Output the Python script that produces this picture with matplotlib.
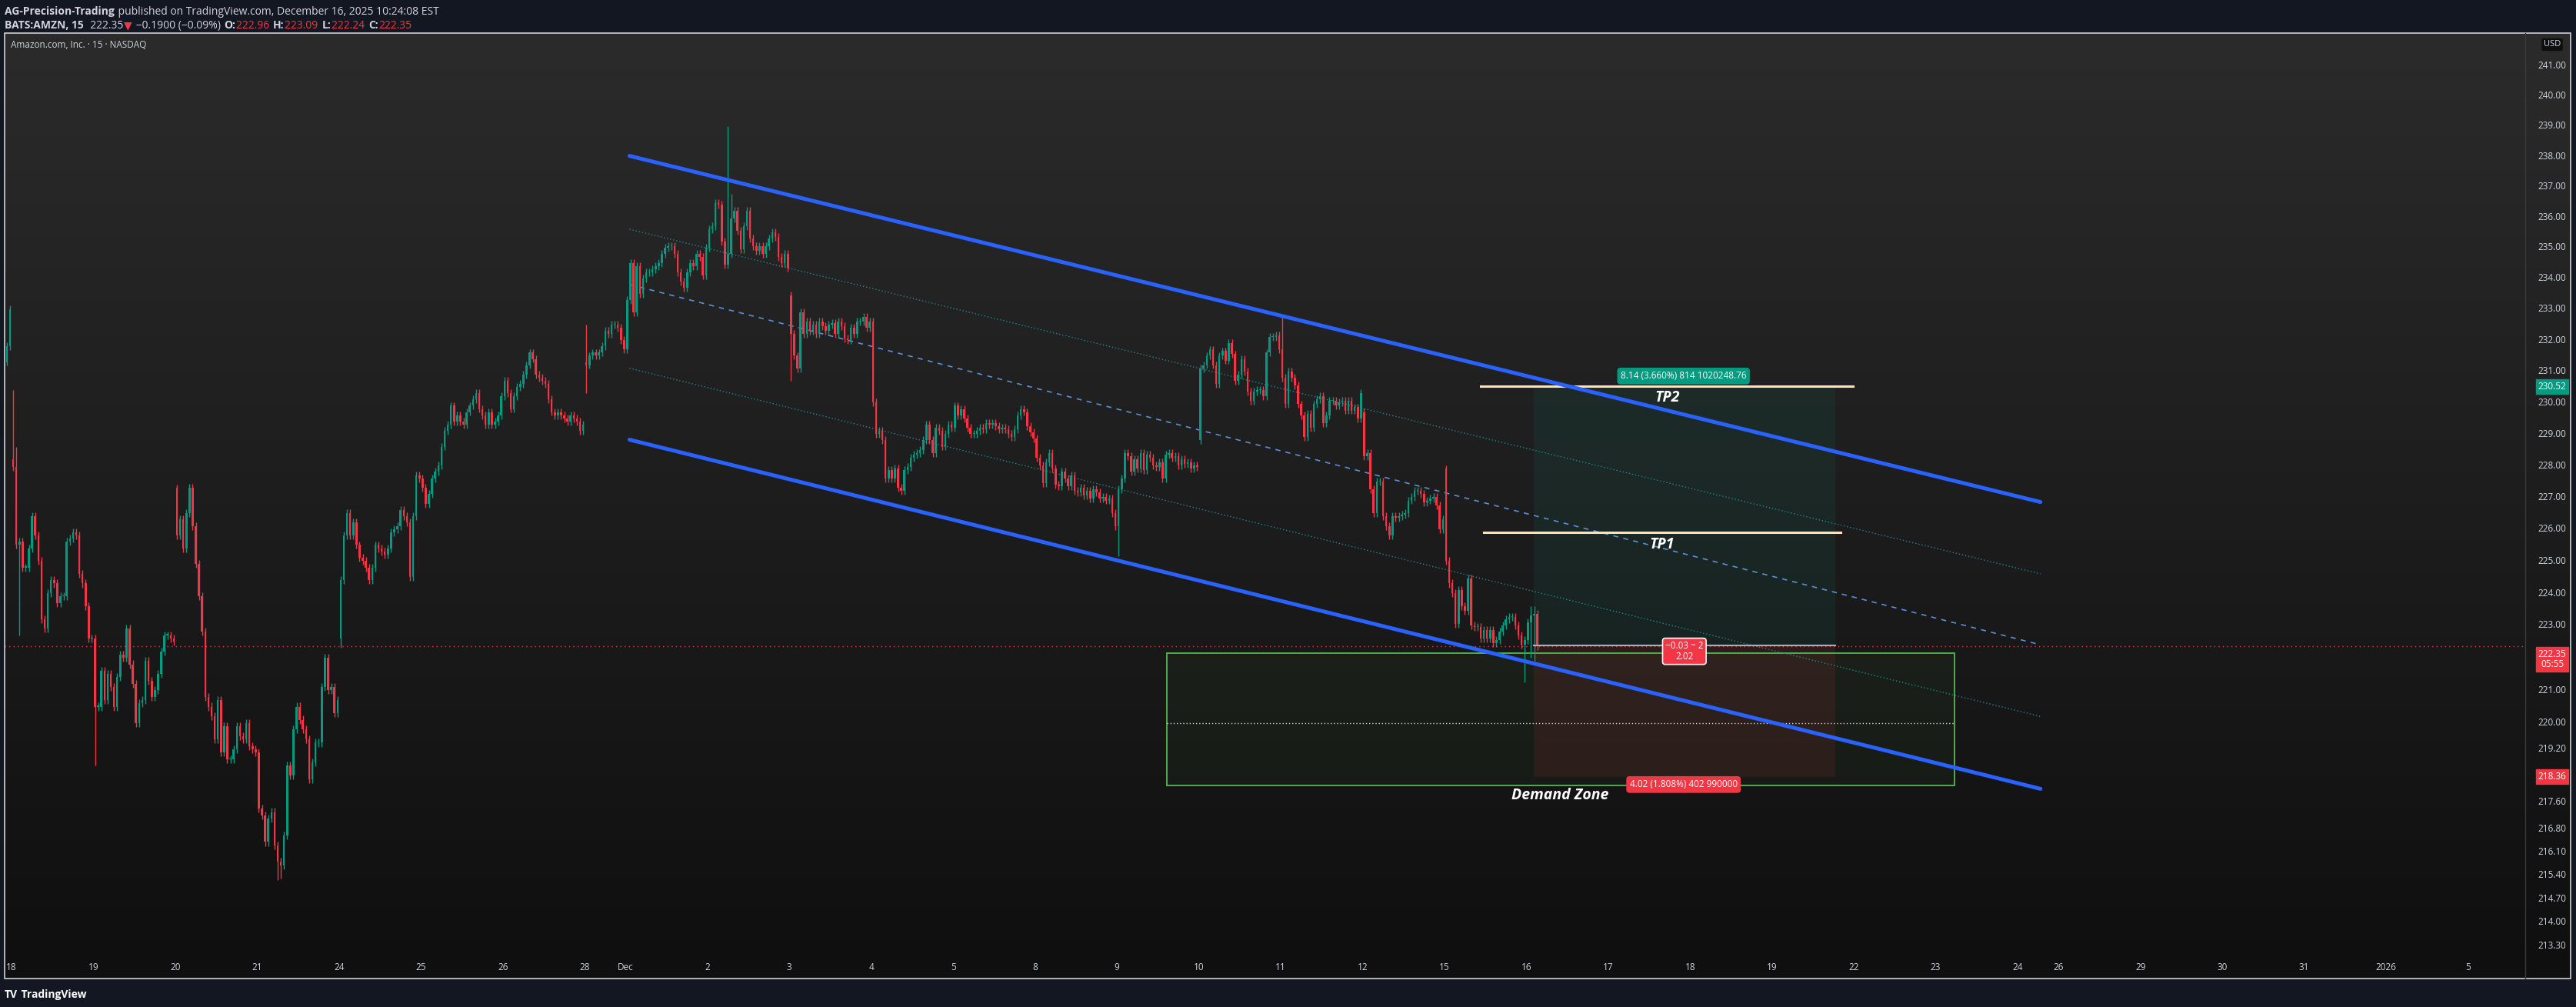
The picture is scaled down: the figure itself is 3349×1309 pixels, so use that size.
import matplotlib
matplotlib.use("Agg")
import matplotlib.pyplot as plt
import numpy as np
from matplotlib.patches import Rectangle
from matplotlib.colors import LinearSegmentedColormap

W, H = 3349, 1309
FONT = ["Open Sans", "DejaVu Sans"]

# ---------------- data ----------------
DAY_LABELS = ['18','19','20','21','24','25','26','28','Dec','2','3','4','5','8','9','10',
              '11','12','15','16','17','18','19','22','23','24','26','29','30','31','2026','5']
DAY_POS = [0,1,2,3,4,5,6,7,7.5,8.5,9.5,10.5,11.5,12.5,13.5,14.5,15.5,16.5,17.5,18.5,
           19.5,20.5,21.5,22.5,23.5,24.5,25,26,27,28,29,30]

NOV17 = [231.8, 233.0]
NOV18 = [227.95,225.5,225.6,224.8,224.8,225.4,226.4,225.8,225.0,223.2,222.9,224.0,224.4,224.3,
         223.7,223.9,223.9,225.6,225.7,225.9,225.8,224.6,224.3,223.6,222.6,222.6]
NOV19 = [220.5,220.5,221.6,220.7,221.5,221.1,220.5,221.4,222.1,222.0,222.9,221.8,221.2,220.0,
         220.6,220.7,221.9,221.3,220.8,221.0,221.5,222.2,222.7,222.7,222.6,222.5]
NOV20 = [225.8,226.3,225.4,226.5,227.3,226.1,224.9,223.9,222.8,220.8,220.5,220.2,219.5,220.7,
         219.1,219.9,218.9,218.9,219.2,219.9,219.6,219.5,220.0,219.3,219.2,219.1]
NOV21 = [217.4,217.2,216.4,217.1,217.3,216.3,215.8,215.7,216.6,218.7,218.4,219.8,220.5,220.1,
         219.8,219.5,218.3,218.8,219.4,219.4,221.1,222.0,221.0,221.1,220.3,220.7]
NOV24 = [224.4,225.8,226.5,225.8,226.2,225.5,225.1,225.0,224.8,224.4,224.8,225.5,225.4,225.3,
         225.2,225.4,225.9,226.0,226.1,226.6,226.4,226.2,224.5,226.4,227.7,227.6]
NOV25 = [227.3,226.8,227.1,227.6,227.8,228.0,228.6,229.1,229.3,229.9,229.4,229.6,229.4,229.3,
         229.7,229.9,230.1,230.3,229.8,229.6,229.3,229.7,229.3,229.4,229.6,230.2]
NOV26 = [230.7,230.3,229.8,230.2,230.5,230.6,230.9,231.2,231.6,231.4,230.9,230.8,230.7,230.6,
         230.1,229.7,229.6,229.7,229.6,229.5,229.4,229.6,229.5,229.4,229.1,229.3]
NOV28 = [231.2,231.5,231.6,231.5,231.6,231.8,232.3,232.2,232.5,232.5,232.4,232.0,231.7]
DEC01 = [233.3,234.5,232.9,234.4,233.5,234.0,234.2,234.2,234.3,234.4,234.5,234.8,235.0,235.05,
         235.05,234.8,234.2,233.9,233.7,234.2,234.5,234.4,234.8,234.7,234.1,235.0]
DEC02 = [235.6,235.7,236.45,236.4,235.2,234.45,234.8,235.95,236.2,235.55,234.95,235.7,236.2,
         235.3,235.05,234.9,235.05,234.8,235.05,235.3,235.5,235.35,234.7,234.5,234.8,234.35]
DEC03 = [232.2,231.5,231.1,232.9,232.2,232.6,232.3,232.5,232.2,232.6,232.45,232.3,232.5,232.55,
         232.2,232.6,232.45,232.05,232.0,232.4,232.2,232.6,232.6,232.75,232.4,232.6]
DEC04 = [230.0,229.0,229.1,228.8,227.6,227.85,227.6,227.9,227.3,227.2,227.85,227.95,228.25,
         228.35,228.4,228.5,228.8,229.3,228.8,228.4,229.2,229.1,228.6,229.0,229.3,229.2]
DEC05 = [229.9,229.6,229.8,229.5,229.2,229.0,229.0,229.1,229.2,229.15,229.35,229.3,229.35,
         229.25,229.15,229.2,229.15,229.0,228.9,229.15,229.6,229.8,229.7,229.25,229.05,228.85]
DEC08 = [228.25,228.0,227.45,228.1,228.4,227.9,227.4,227.35,227.8,227.6,227.35,227.7,227.2,
         227.15,227.3,227.05,227.2,226.95,227.25,227.15,226.95,227.0,226.9,226.95,226.5,226.1]
DEC09 = [227.25,227.6,228.4,228.3,227.8,228.2,227.9,228.4,227.85,228.35,228.25,228.0,227.95,
         228.1,227.6,228.35,228.4,228.25,228.3,228.0,228.2,228.05,228.1,227.9,228.0,227.95]
DEC10 = [231.1,231.2,231.5,231.7,231.2,230.6,231.5,231.65,231.35,231.9,231.55,230.7,230.9,
         231.4,231.0,230.35,230.05,230.35,230.4,230.4,230.2,231.6,232.1,232.1,232.15,231.7]
DEC11 = [230.8,229.95,231.0,230.8,230.55,229.95,229.6,228.9,229.65,229.2,229.95,230.1,230.2,
         229.35,229.6,230.05,230.05,229.9,230.0,230.05,229.75,230.05,229.75,229.85,229.5,230.3]
DEC12 = [228.3,228.4,227.25,226.5,227.5,227.5,226.4,226.1,225.8,226.4,226.35,226.4,226.45,
         226.5,226.9,227.0,227.2,227.2,227.1,226.85,226.9,226.95,227.0,226.75,226.0,226.3]
DEC15 = [225.0,224.3,224.0,223.05,224.1,223.6,223.45,224.45,223.0,222.95,222.95,222.6,222.85,
         222.6,222.85,222.45,222.55,222.8,223.0,223.2,223.25,223.25,223.0,222.7,222.4,222.55]
DEC16 = [223.1,223.3,223.35,222.35]

SESSIONS = [(-1, NOV17, 24), (0, NOV18, 0), (1, NOV19, 0), (2, NOV20, 0), (3, NOV21, 0),
            (4, NOV24, 0), (5, NOV25, 0), (6, NOV26, 0), (7, NOV28, 0), (7.5, DEC01, 0),
            (8.5, DEC02, 0), (9.5, DEC03, 0), (10.5, DEC04, 0), (11.5, DEC05, 0),
            (12.5, DEC08, 0), (13.5, DEC09, 0), (14.5, DEC10, 0), (15.5, DEC11, 0),
            (16.5, DEC12, 0), (17.5, DEC15, 0), (18.5, DEC16, 0)]
GAP_OPENS = {-1: 231.3, 0: 228.2, 2: 227.3, 4: 222.6, 7: 231.3, 7.5: 231.7, 9.5: 233.45,
             14.5: 228.8, 16.5: 229.7, 17.5: 227.9}
WICKS = {(0, 0): (230.4, None), (0, 1): (228.6, None), (0, 2): (None, 222.7),
         (1, 0): (None, 218.7), (2, 0): (227.4, None), (3, 6): (None, 215.25),
         (3, 7): (None, 215.3), (4, 0): (None, 222.3), (7, 0): (232.5, 230.3),
         (8.5, 6): (239.0, None), (8.5, 7): (236.75, None), (9.5, 0): (None, 230.7),
         (13.5, 0): (None, 225.15), (15.5, 0): (232.8, None), (17.5, 0): (228.0, None),
         (17.5, 25): (None, 221.25), (18.5, 1): (223.6, 222.0), (18.5, 2): (223.6, 221.9)}
DEFAULT_WICK = 0.12

LAST_PRICE = 222.35
TP2, TP1, ENTRY, STOP = 230.52, 225.9, 222.38, 218.36
ZONE_TOP, ZONE_MID, ZONE_BOT = 222.15, 220.0, 218.1
CH_X = (7.547, 24.78)
CH_UP = (238.01, 226.85)
CH_UQ = (235.6, 224.6)
CH_MID = (233.8, 222.4)
CH_LQ = (231.1, 220.2)
CH_LO = (228.82, 218.0)

PRICE_TICKS = [241,240,239,238,237,236,235,234,233,232,231,230,229,228,227,226,225,224,223,
               221,220,219.2,217.6,216.8,216.1,215.4,214.7,214.0,213.3]

GREEN, RED = "#089981", "#F23645"

# ---------------- figure ----------------
fig = plt.figure(figsize=(W/100, H/100), dpi=100)
fig.patch.set_facecolor("#131722")

def fx(px): return px / W
def fy(py): return 1 - py / H

PL, PT, PR, PB = 6, 43, 3342, 1272
bg = fig.add_axes([fx(PL), fy(PB), fx(PR-PL), (PB-PT)/H])
grad = np.linspace(0, 1, 256).reshape(-1, 1)
cmap = LinearSegmentedColormap.from_list("g", ["#2b2b2b", "#0f0f0f"])
bg.imshow(grad, aspect="auto", cmap=cmap, extent=[0, 1, 0, 1], origin="upper")
bg.set_axis_off()
fig.add_artist(Rectangle((fx(PL), fy(PB)), fx(PR-PL), (PB-PT)/H, transform=fig.transFigure,
                         fill=False, ec="#d0d0d0", lw=1.2))
fig.add_artist(plt.Line2D([fx(3283), fx(3283)], [fy(PB), fy(PT)], transform=fig.transFigure,
                          color="#3a3a3a", lw=1))

YT, YB = 43, 1245
ax = fig.add_axes([fx(PL), fy(YB), fx(3283-PL), (YB-YT)/H])
ax.set_facecolor("none")
ax.set_yscale("log")
ax.set_ylim(212.95, 242.1)
ax.set_xlim(-0.085, 30.7)
for s in ax.spines.values():
    s.set_visible(False)
ax.set_xticks([]); ax.set_yticks([])
ax.yaxis.set_minor_locator(matplotlib.ticker.NullLocator())

xs, o_, h_, l_, c_ = [], [], [], [], []
prev = None
for pos, closes, start in SESSIONS:
    for i, c in enumerate(closes):
        idx = start + i
        o = GAP_OPENS[pos] if (i == 0 and pos in GAP_OPENS) else (prev if prev is not None else c)
        hi = max(o, c) + DEFAULT_WICK
        lo = min(o, c) - DEFAULT_WICK
        if (pos, i) in WICKS:
            wh, wl = WICKS[(pos, i)]
            if wh is not None: hi = wh
            if wl is not None: lo = wl
        xs.append(pos + (idx + 0.5) / 26.0)
        o_.append(o); h_.append(hi); l_.append(lo); c_.append(c)
        prev = c
xs = np.array(xs); o_ = np.array(o_); c_ = np.array(c_); h_ = np.array(h_); l_ = np.array(l_)
cols = np.where(c_ >= o_, GREEN, RED)
ax.vlines(xs, l_, h_, colors=cols, lw=1.0, zorder=3)
bot = np.minimum(o_, c_); top = np.maximum(o_, c_)
top = np.where(top - bot < 0.03, bot + 0.03, top)
ax.bar(xs, top - bot, bottom=bot, width=0.62/26, color=cols, lw=0, zorder=4)

ax.axhline(LAST_PRICE, color=RED, lw=1, ls=(0, (1, 3)), zorder=2)

ax.add_patch(Rectangle((14.11, ZONE_BOT), 23.73-14.11, ZONE_TOP-ZONE_BOT, fill=True,
                       fc=(0.3, 0.69, 0.31, 0.05), ec="#4caf50", lw=1.4, zorder=2))
ax.plot([14.11, 23.73], [ZONE_MID, ZONE_MID], color="#cfcfcf", lw=1, ls=(0, (1, 2)), zorder=2)

PX0, PX1 = 18.59, 22.27
ax.add_patch(Rectangle((PX0, ENTRY), PX1-PX0, TP2-ENTRY, fc=(0.03, 0.6, 0.5, 0.09), lw=0, zorder=1))
ax.add_patch(Rectangle((PX0, STOP), PX1-PX0, ENTRY-STOP, fc=(0.95, 0.21, 0.27, 0.10), lw=0, zorder=1))
ax.plot([PX0, PX1], [ENTRY, ENTRY], color="#9fb5b5", lw=1.5, zorder=5)

ax.plot([17.94, 22.49], [TP2, TP2], color="#ffe0b2", lw=2.2, zorder=6)
ax.plot([17.98, 22.34], [TP1, TP1], color="#ffe0b2", lw=2.2, zorder=6)

ax.plot(CH_X, CH_UP, color="#2962ff", lw=3.6, zorder=7, solid_capstyle="round")
ax.plot(CH_X, CH_LO, color="#2962ff", lw=3.6, zorder=7, solid_capstyle="round")
ax.plot(CH_X, CH_MID, color="#5b8fd6", lw=1.2, ls=(0, (4, 4)), zorder=2)
ax.plot(CH_X, CH_UQ, color="#1f8a8a", lw=1.0, ls=(0, (1, 2)), zorder=2)
ax.plot(CH_X, CH_LQ, color="#1f8a8a", lw=1.0, ls=(0, (1, 2)), zorder=2)

tfont = dict(family=FONT, color="white", fontweight="bold", style="italic", fontsize=14,
             ha="center", va="center", zorder=10)
ax.text(20.22, 230.15, "TP2", **tfont)
ax.text(20.16, 225.5, "TP1", **tfont)
ax.text(18.91, 217.8, "Demand Zone", **tfont)

def badge(x, y, s, fc, ec=None, fs=8.5):
    ax.text(x, y, s, family=FONT, color="white", fontsize=fs, ha="center", va="center",
            zorder=11, linespacing=1.1,
            bbox=dict(boxstyle="round,pad=0.3,rounding_size=0.3", fc=fc,
                      ec=ec if ec else fc, lw=1.2))
badge(20.42, 230.85, "8.14 (3.660%) 814 1020248.76", GREEN)
badge(20.43, 222.2, "\u22120.03 ~ 2\n2.02", RED, ec="white")
badge(20.42, 218.13, "4.02 (1.808%) 402 990000", RED)

xt = ax.get_xaxis_transform()
for lab, p in zip(DAY_LABELS, DAY_POS):
    ax.text(p, -12.5 / (YB - YT), lab, transform=xt, family=FONT, fontsize=8.5,
            color="#d1d4dc", ha="center", va="center", clip_on=False)

trans = matplotlib.transforms.blended_transform_factory(fig.transFigure, ax.transData)
for p in PRICE_TICKS:
    fig.text(fx(3318), p, f"{p:.2f}", transform=trans, fontsize=8.5, family=FONT,
             color="#d1d4dc", ha="center", va="center")

def pbadge(p, s, fc):
    fig.text(fx(3318), p, s, transform=trans, fontsize=8.5, family=FONT, color="white",
             ha="center", va="center", linespacing=1.0,
             bbox=dict(boxstyle="square,pad=0.25", fc=fc, ec=fc))
pbadge(TP2, "230.52", GREEN)
pbadge(221.95, "222.35\n05:55", RED)
pbadge(STOP, "218.36", RED)
fig.text(fx(3318), fy(58), "USD", fontsize=8, family=FONT, color="#d1d4dc", ha="center",
         va="center", bbox=dict(boxstyle="round,pad=0.3", fc="#0e0e0e", ec="#2a2a2a"))

fig.text(fx(14), fy(58), "Amazon.com, Inc. \u00b7 15 \u00b7 NASDAQ", fontsize=8.5, family=FONT,
         color="#d1d4dc", ha="left", va="center")

renderer = fig.canvas.get_renderer()
def chain(parts, x, y, fs=10):
    cur = x
    for s, col, bold in parts:
        t = fig.text(fx(cur), fy(y), s, fontsize=fs, family=FONT, color=col,
                     fontweight="bold" if bold else "normal", ha="left", va="baseline")
        bb = t.get_window_extent(renderer)
        cur = bb.x1 + 1
    return cur

chain([("AG-Precision-Trading", "#d1d4dc", True),
       (" published on TradingView.com, December 16, 2025 10:24:08 EST", "#d1d4dc", False)], 6, 19)
chain([("BATS:AMZN, 15", "#d1d4dc", True), ("  222.35", "#d1d4dc", False),
       ("\u25bc", RED, False), (" \u22120.1900 (\u22120.09%) ", "#d1d4dc", False),
       ("O:", "#d1d4dc", True), ("222.96 ", RED, False), ("H:", "#d1d4dc", True),
       ("223.09 ", RED, False), ("L:", "#d1d4dc", True), ("222.24 ", RED, False),
       ("C:", "#d1d4dc", True), ("222.35", RED, False)], 6, 37)
chain([("TV", "white", True), (" TradingView", "white", True)], 6, 1297)

fig.savefig("out.png", dpi=100, facecolor=fig.get_facecolor())
